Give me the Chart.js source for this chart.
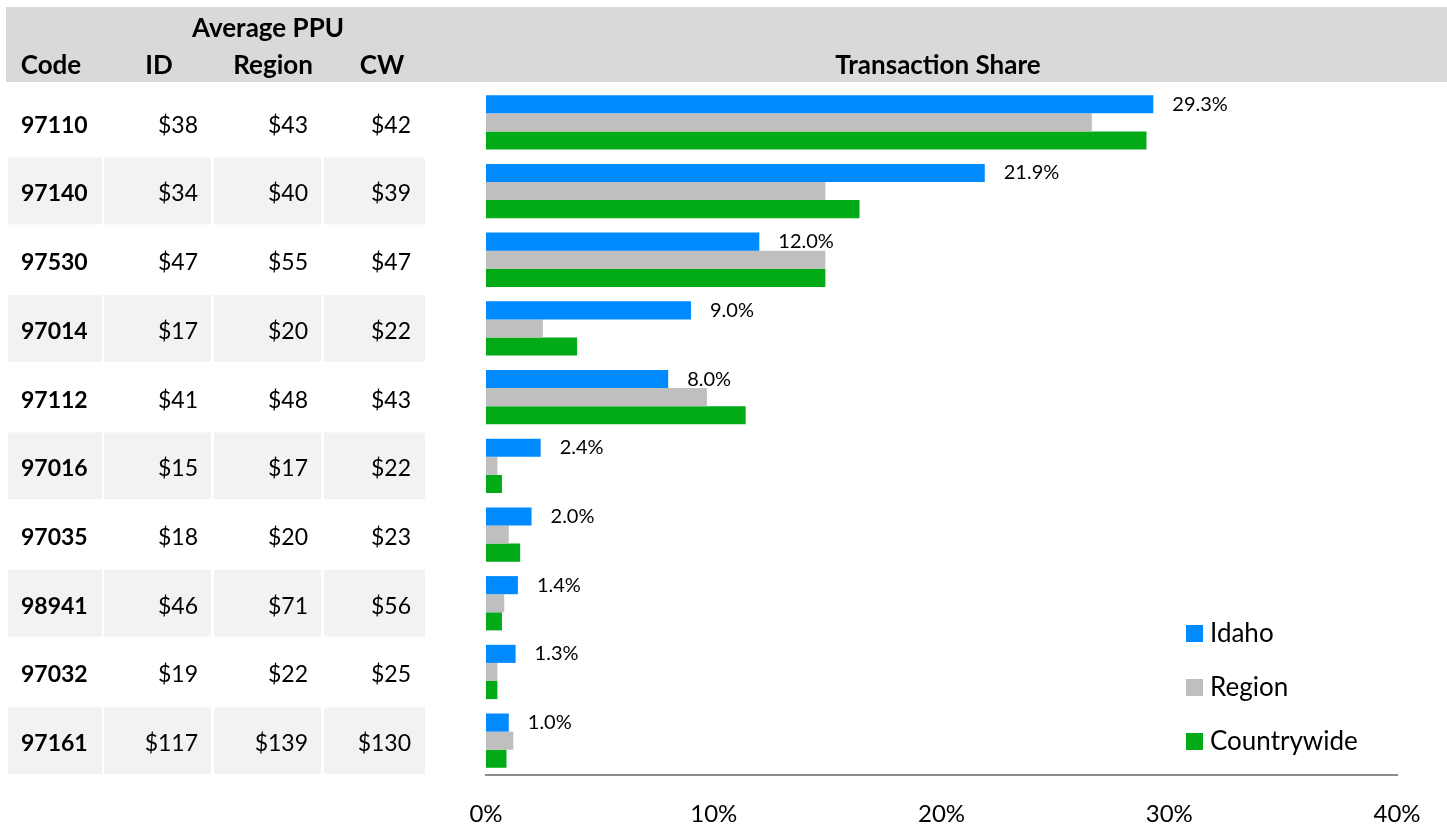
<!DOCTYPE html>
<html>
<head>
<meta charset="utf-8">
<script src="https://cdn.jsdelivr.net/npm/chart.js@4/dist/chart.umd.min.js"></script>
<style>
  html, body { margin: 0; padding: 0; background: #fff; }
  #wrap { position: relative; width: 1447px; height: 829px; }
</style>
</head>
<body>
<div id="wrap"><canvas id="c" width="1447" height="829"></canvas></div>
<script>
// ---- data ----
const codes = ['97110','97140','97530','97014','97112','97016','97035','98941','97032','97161'];
const ppuID = ['$38','$34','$47','$17','$41','$15','$18','$46','$19','$117'];
const ppuRegion = ['$43','$40','$55','$20','$48','$17','$20','$71','$22','$139'];
const ppuCW = ['$42','$39','$47','$22','$43','$22','$23','$56','$25','$130'];
const idahoShare = [29.3, 21.9, 12.0, 9.0, 8.0, 2.4, 2.0, 1.4, 1.3, 1.0];
const regionShare = [26.6, 14.9, 14.9, 2.5, 9.7, 0.5, 1.0, 0.8, 0.5, 1.2];
const countrywideShare = [29.0, 16.4, 14.9, 4.0, 11.4, 0.7, 1.5, 0.7, 0.5, 0.9];
const seriesNames = ['Idaho', 'Region', 'Countrywide'];
const xTicks = [0, 10, 20, 30, 40];

const FONT = 'Lato, "Open Sans", sans-serif';
const colors = ['#008AFF', '#BFBFBF', '#00AB17'];

const tablePlugin = {
  id: 'tablePlugin',
  beforeDraw(chart) {
    const ctx = chart.ctx;
    const y = chart.scales.y;
    ctx.save();
    // header band
    ctx.fillStyle = '#D9D9D9';
    ctx.fillRect(6, 7, 1441, 75);
    ctx.fillStyle = '#000';
    ctx.font = 'bold 26px ' + FONT;
    ctx.textBaseline = 'middle';
    ctx.textAlign = 'center';
    ctx.fillText('Average PPU', 268, 29);
    ctx.fillText('Transaction Share', 938, 66);
    ctx.fillText('Code', 51, 66);
    ctx.fillText('ID', 159, 66);
    ctx.fillText('Region', 273, 66);
    ctx.fillText('CW', 382, 66);
    // rows
    const cols = [[8, 102], [104, 211], [214, 321], [324, 425]];
    const step = Math.abs(y.getPixelForValue(1) - y.getPixelForValue(0));
    codes.forEach((code, i) => {
      const cy = y.getPixelForValue(i);
      if (i % 2 === 1) {
        ctx.fillStyle = '#F2F2F2';
        cols.forEach(([a, b]) => ctx.fillRect(a, cy - step / 2 + 1, b - a, step - 2));
      }
      ctx.fillStyle = '#000';
      ctx.textBaseline = 'middle';
      ctx.font = 'bold 23px ' + FONT;
      ctx.textAlign = 'left';
      ctx.fillText(code, 21, cy + 3);
      ctx.font = '23px ' + FONT;
      ctx.textAlign = 'right';
      ctx.fillText(ppuID[i], 198, cy + 3);
      ctx.fillText(ppuRegion[i], 308, cy + 3);
      ctx.fillText(ppuCW[i], 411, cy + 3);
    });
    ctx.restore();
  },
  afterDatasetsDraw(chart) {
    const ctx = chart.ctx;
    ctx.save();
    // data labels on Idaho
    const meta = chart.getDatasetMeta(0);
    ctx.font = '20px ' + FONT;
    ctx.fillStyle = '#000';
    ctx.textAlign = 'left';
    ctx.textBaseline = 'middle';
    meta.data.forEach((el, i) => {
      ctx.fillText(idahoShare[i].toFixed(1) + '%', el.x + 19, el.y);
    });
    // legend
    ctx.font = '26px ' + FONT;
    chart.data.datasets.forEach((ds, k) => {
      const ly = 633 + k * 54;
      ctx.fillStyle = ds.backgroundColor;
      ctx.fillRect(1186, ly - 8, 17, 17);
      ctx.fillStyle = '#000';
      ctx.fillText(ds.label, 1210, ly + 1);
    });
    ctx.restore();
  }
};

new Chart(document.getElementById('c'), {
  type: 'bar',
  data: {
    labels: codes,
    datasets: [
      { label: seriesNames[0], data: idahoShare, backgroundColor: colors[0] },
      { label: seriesNames[1], data: regionShare, backgroundColor: colors[1] },
      { label: seriesNames[2], data: countrywideShare, backgroundColor: colors[2] }
    ]
  },
  options: {
    indexAxis: 'y',
    responsive: false,
    animation: false,
    devicePixelRatio: 1,
    layout: { padding: { left: 486, right: 50, top: 88, bottom: 0 } },
    datasets: { bar: { barPercentage: 1.0, categoryPercentage: 0.79, borderWidth: 0 } },
    plugins: { legend: { display: false }, tooltip: { enabled: false } },
    scales: {
      y: { display: false },
      x: {
        min: 0, max: 40,
        afterBuildTicks(scale) { scale.ticks = xTicks.map(v => ({ value: v })); },
        afterFit(scale) { scale.height = 54; },
        grid: { display: false, drawTicks: false },
        border: { display: true, color: '#8C8C8C', width: 2 },
        ticks: {
          padding: 25,
          color: '#000',
          font: { family: FONT, size: 24 },
          maxRotation: 0,
          callback: v => v + '%'
        }
      }
    }
  },
  plugins: [tablePlugin]
});
</script>
</body>
</html>
